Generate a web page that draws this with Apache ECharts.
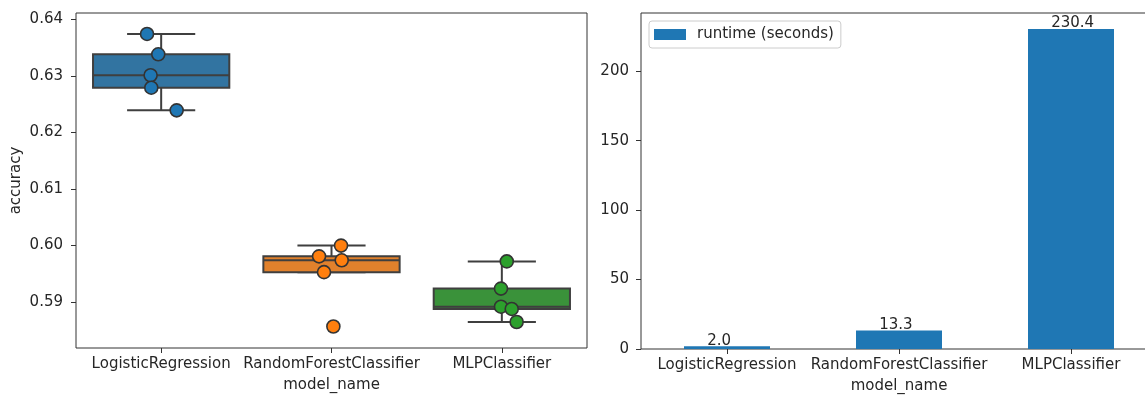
<!DOCTYPE html>
<html>
<head>
<meta charset="utf-8">
<script src="https://cdn.jsdelivr.net/npm/echarts@6/dist/echarts.min.js"></script>
<style>
  html, body { margin: 0; padding: 0; background: #ffffff; }
  #chart { width: 1145px; height: 398px; }
</style>
</head>
<body>
<div id="chart"></div>
<script>
// Model names shared by both panels
const models = ['LogisticRegression', 'RandomForestClassifier', 'MLPClassifier'];

// Cross-validation accuracy of each run
const lrAccuracy  = [0.6374, 0.6338, 0.6301, 0.6279, 0.6239];
const rfAccuracy  = [0.6000, 0.5981, 0.5974, 0.5953, 0.5857];
const mlpAccuracy = [0.5972, 0.5924, 0.5892, 0.5888, 0.5865];

// Horizontal strip jitter of each run, in category widths
const lrJitter  = [-0.083, -0.017, -0.062, -0.058, 0.091];
const rfJitter  = [0.056, -0.073, 0.060, -0.044, 0.011];
const mlpJitter = [0.029, -0.005, -0.005, 0.058, 0.087];

// Mean training runtime per model
const runtimeSeconds = [2.0, 13.3, 230.4];

// Tick values
const accuracyTicks = [0.59, 0.60, 0.61, 0.62, 0.63, 0.64];
const runtimeTicks = [0, 50, 100, 150, 200];

const accuracyRuns = [lrAccuracy, rfAccuracy, mlpAccuracy];
const jitterRuns = [lrJitter, rfJitter, mlpJitter];

const FONT = 'DejaVu Sans';
const INK = '#262626';
const FRAME = '#333333';
const BOX_LINE = '#3f3f3f';
const boxFill = ['#3274a1', '#e1812c', '#3a923a'];
const pointFill = ['#1f77b4', '#ff7f0e', '#2ca02c'];

// Linear-interpolated quantile of a sorted array
function quantile(sorted, p) {
  const h = (sorted.length - 1) * p;
  const lo = Math.floor(h);
  const hi = Math.ceil(h);
  return sorted[lo] + (h - lo) * (sorted[hi] - sorted[lo]);
}

// Tukey box statistics: whiskers reach the furthest run within 1.5 IQR
function boxStats(values) {
  const s = values.slice().sort((a, b) => a - b);
  const q1 = quantile(s, 0.25);
  const med = quantile(s, 0.5);
  const q3 = quantile(s, 0.75);
  const iqr = q3 - q1;
  const low = Math.min(...s.filter(v => v >= q1 - 1.5 * iqr));
  const high = Math.max(...s.filter(v => v <= q3 + 1.5 * iqr));
  return [low, q1, med, q3, high];
}

const boxData = accuracyRuns.map((runs, i) => [i].concat(boxStats(runs)));

function renderBox(params, api) {
  const i = api.value(0);
  const bw = api.size([1, 0])[0] * 0.8;
  const cx = api.coord([i, api.value(3)])[0];
  const yLow = api.coord([i, api.value(1)])[1];
  const yQ1 = api.coord([i, api.value(2)])[1];
  const yMed = api.coord([i, api.value(3)])[1];
  const yQ3 = api.coord([i, api.value(4)])[1];
  const yHigh = api.coord([i, api.value(5)])[1];
  const line = { stroke: BOX_LINE, lineWidth: 2 };
  return {
    type: 'group',
    children: [
      { type: 'line', shape: { x1: cx, y1: yQ1, x2: cx, y2: yLow }, style: line },
      { type: 'line', shape: { x1: cx, y1: yQ3, x2: cx, y2: yHigh }, style: line },
      { type: 'line', shape: { x1: cx - bw / 4, y1: yLow, x2: cx + bw / 4, y2: yLow }, style: line },
      { type: 'line', shape: { x1: cx - bw / 4, y1: yHigh, x2: cx + bw / 4, y2: yHigh }, style: line },
      { type: 'rect', shape: { x: cx - bw / 2, y: yQ3, width: bw, height: yQ1 - yQ3 },
        style: { fill: boxFill[params.dataIndex], stroke: BOX_LINE, lineWidth: 2 } },
      { type: 'line', shape: { x1: cx - bw / 2, y1: yMed, x2: cx + bw / 2, y2: yMed }, style: line }
    ]
  };
}

const stripSeries = accuracyRuns.map((runs, i) => ({
  type: 'scatter',
  xAxisIndex: 1,
  yAxisIndex: 0,
  z: 5,
  symbol: 'circle',
  symbolSize: 13,
  itemStyle: { color: pointFill[i], borderColor: '#333333', borderWidth: 1.6, opacity: 1 },
  emphasis: { disabled: true },
  data: runs.map((v, k) => [i + jitterRuns[i][k], v])
}));

const tickStyle = { show: true, length: 5, inside: false, lineStyle: { color: FRAME, width: 1 } };
const labelStyle = { color: INK, fontFamily: FONT, fontSize: 15 };

const option = {
  animation: false,
  backgroundColor: '#ffffff',
  textStyle: { fontFamily: FONT },
  grid: [
    { left: 76, top: 13, width: 511, height: 335, show: true, borderColor: FRAME, borderWidth: 1,
      backgroundColor: 'transparent', containLabel: false, outerBoundsMode: 'none' },
    { left: 641, top: 13, width: 516, height: 336, show: true, borderColor: FRAME, borderWidth: 1,
      backgroundColor: 'transparent', containLabel: false, outerBoundsMode: 'none' }
  ],
  legend: {
    show: true,
    data: ['runtime (seconds)'],
    left: 649,
    top: 21,
    orient: 'horizontal',
    padding: [6, 7, 6, 5],
    itemWidth: 32,
    itemHeight: 11,
    icon: 'rect',
    borderColor: '#cccccc',
    borderWidth: 1,
    borderRadius: 3,
    backgroundColor: '#ffffff',
    textStyle: { color: INK, fontFamily: FONT, fontSize: 15, padding: [0, 0, 0, 6] }
  },
  xAxis: [
    {
      type: 'category', gridIndex: 0, data: models, boundaryGap: true,
      axisLine: { show: false, onZero: false },
      axisTick: Object.assign({ alignWithLabel: true }, tickStyle),
      axisLabel: Object.assign({ margin: 9, interval: 0 }, labelStyle),
      splitLine: { show: false },
      name: 'model_name', nameLocation: 'middle', nameGap: 30,
      nameTextStyle: labelStyle
    },
    {
      type: 'value', gridIndex: 0, min: -0.5, max: 2.5, show: false,
      axisLine: { onZero: false },
      splitLine: { show: false }
    },
    {
      type: 'category', gridIndex: 1, data: models, boundaryGap: true,
      axisLine: { show: false, onZero: false },
      axisTick: Object.assign({ alignWithLabel: true }, tickStyle),
      axisLabel: Object.assign({ margin: 9, interval: 0 }, labelStyle),
      splitLine: { show: false },
      name: 'model_name', nameLocation: 'middle', nameGap: 30,
      nameTextStyle: labelStyle
    }
  ],
  yAxis: [
    {
      type: 'value', gridIndex: 0, min: 0.5819, max: 0.6411, position: 'left',
      axisLine: { show: false, onZero: false },
      axisTick: Object.assign({ customValues: accuracyTicks }, tickStyle),
      axisLabel: Object.assign({ customValues: accuracyTicks, margin: 13,
        formatter: v => v.toFixed(2) }, labelStyle),
      splitLine: { show: false },
      name: 'accuracy', nameLocation: 'middle', nameGap: 52, nameRotate: 90,
      nameTextStyle: labelStyle
    },
    {
      type: 'value', gridIndex: 1, min: 0, max: 241.92, position: 'left',
      axisLine: { show: false, onZero: false },
      axisTick: Object.assign({ customValues: runtimeTicks }, tickStyle),
      axisLabel: Object.assign({ customValues: runtimeTicks, margin: 12,
        formatter: v => String(v) }, labelStyle),
      splitLine: { show: false }
    }
  ],
  series: [
    {
      type: 'custom',
      name: 'accuracy box',
      xAxisIndex: 0,
      yAxisIndex: 0,
      z: 2,
      renderItem: renderBox,
      encode: { x: 0, y: [1, 2, 3, 4, 5] },
      data: boxData
    }
  ].concat(stripSeries, [
    {
      type: 'bar',
      name: 'runtime (seconds)',
      xAxisIndex: 2,
      yAxisIndex: 1,
      barWidth: '50%',
      itemStyle: { color: '#1f77b4' },
      emphasis: { disabled: true },
      label: {
        show: true,
        position: ['27%', 2],
        align: 'left',
        verticalAlign: 'bottom',
        color: INK,
        fontFamily: FONT,
        fontSize: 15,
        formatter: p => p.value.toFixed(1)
      },
      data: runtimeSeconds
    }
  ])
};

const chart = echarts.init(document.getElementById('chart'), null, { renderer: 'canvas' });
chart.setOption(option);
</script>
</body>
</html>
